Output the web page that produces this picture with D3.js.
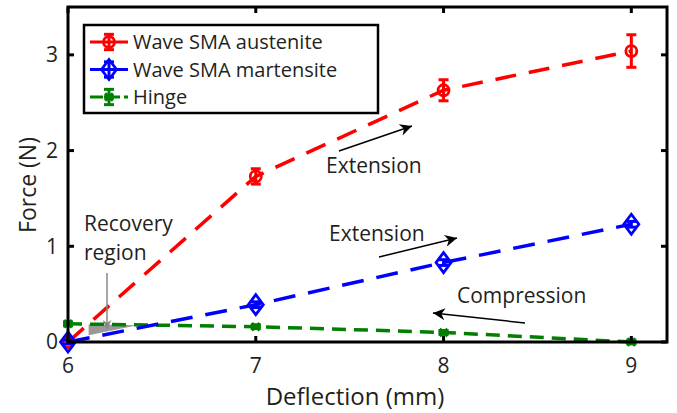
<!DOCTYPE html>
<html><head><meta charset="utf-8">
<script src="https://cdn.jsdelivr.net/npm/d3@7"></script>
<style>body{margin:0;background:#fff}svg{display:block}text{font-family:"Open Sans",sans-serif;fill:#231f20}</style>
</head><body>
<svg id="c" width="677" height="413"></svg>
<script>
const deflection = [6, 7, 8, 9];
const austenite = [0.0, 1.73, 2.63, 3.04];
const austeniteErr = [0.02, 0.08, 0.11, 0.17];
const martensite = [0.0, 0.39, 0.83, 1.23];
const martensiteErr = [0.02, 0.03, 0.03, 0.03];
const hinge = [0.19, 0.16, 0.10, 0.0];
const hingeErr = [0.02, 0.02, 0.02, 0.02];
const xTicks = [6, 7, 8, 9];
const yTicks = [0, 1, 2, 3];
const seriesNames = ["Wave SMA austenite", "Wave SMA martensite", "Hinge"];
const seriesColors = ["#ff0000", "#0000ff", "#007f00"];

const svg = d3.select("#c");
const L = 68, R = 667, T = 7, B = 342;
const x = d3.scaleLinear().domain([6, 9.19]).range([L, R]);
const y = d3.scaleLinear().domain([0, 3.5]).range([B, T]);

const series = [
  {name: seriesNames[0], color: seriesColors[0], v: austenite, e: austeniteErr, marker: "circle", dash: "21,13", w: 3.5},
  {name: seriesNames[1], color: seriesColors[1], v: martensite, e: martensiteErr, marker: "diamond", dash: "22,13", w: 3.5},
  {name: seriesNames[2], color: seriesColors[2], v: hinge, e: hingeErr, marker: "star", dash: "14,8", w: 3.5}
];

const line = d3.line().x((d,i)=>x(deflection[i])).y(d=>y(d));
const plot = svg.append("g");

function drawMarker(g, type, cx, cy, color) {
  if (type === "circle") {
    g.append("circle").attr("cx", cx).attr("cy", cy).attr("r", 5.5).attr("fill","none").attr("stroke", color).attr("stroke-width", 2.8);
  } else if (type === "diamond") {
    g.append("path").attr("d", `M${cx},${cy-10}L${cx+7.5},${cy}L${cx},${cy+10}L${cx-7.5},${cy}Z`).attr("fill","none").attr("stroke", color).attr("stroke-width", 2.8);
  } else {
    g.append("path").attr("d", `M${cx-4},${cy-3.5}L${cx+4},${cy+3.5}M${cx-4},${cy+3.5}L${cx+4},${cy-3.5}M${cx-5},${cy}L${cx+5},${cy}`).attr("stroke", color).attr("stroke-width", 3.2);
  }
}
function drawErr(g, cx, v, e, color) {
  const y1 = y(v + e), y2 = y(v - e);
  g.append("line").attr("x1", cx).attr("x2", cx).attr("y1", y1).attr("y2", y2).attr("stroke", color).attr("stroke-width", 3);
  [y1, y2].forEach(yy => g.append("line").attr("x1", cx-5).attr("x2", cx+5).attr("y1", yy).attr("y2", yy).attr("stroke", color).attr("stroke-width", 3));
}

// Recovery region shape (under lines)
plot.append("path").attr("d", `M${x(6.11)},${y(0.185)}L${x(6.37)},${y(0.175)}L${x(6.11)},${y(0.07)}Z`).attr("fill", "#999999");

[2, 0, 1].forEach(k => {
  const s = series[k];
  plot.append("path").datum(s.v).attr("d", line).attr("fill","none").attr("stroke", s.color)
    .attr("stroke-width", s.w).attr("stroke-dasharray", s.dash);
});
[2, 0, 1].forEach(k => {
  const s = series[k];
  const g = plot.append("g");
  s.v.forEach((v, i) => {
    const cx = x(deflection[i]);
    drawErr(g, cx, v, s.e[i], s.color);
    drawMarker(g, s.marker, cx, y(v), s.color);
  });
});

const defs = svg.append("defs");
function mk(id, color, w, h) {
  defs.append("marker").attr("id", id).attr("viewBox", "0 0 10 10").attr("refX", 10).attr("refY", 5)
    .attr("markerWidth", w).attr("markerHeight", h).attr("orient", "auto").attr("markerUnits","userSpaceOnUse")
    .append("path").attr("d", "M0,0L10,5L0,10L3,5Z").attr("fill", color);
}
mk("ah", "#000", 20, 12);
mk("ahg", "#888", 14, 9);
svg.append("line").attr("x1", 107).attr("y1", 273).attr("x2", 107).attr("y2", 329).attr("stroke", "#888").attr("stroke-width", 1.5).attr("marker-end", "url(#ahg)");

const arrows = [[339,151,412,126],[379,257,457,238],[525,323,433,313]];
arrows.forEach(a => svg.append("line").attr("x1",a[0]).attr("y1",a[1]).attr("x2",a[2]).attr("y2",a[3]).attr("stroke","#000").attr("stroke-width",1.5).attr("marker-end","url(#ah)"));

const ann = svg.append("g").style("font-size","21px");
ann.append("text").attr("x", 326).attr("y", 173).text("Extension");
ann.append("text").attr("x", 329).attr("y", 241).text("Extension");
ann.append("text").attr("x", 457).attr("y", 303).text("Compression");
ann.append("text").attr("x", 84).attr("y", 231).text("Recovery");
ann.append("text").attr("x", 84).attr("y", 260).text("region");

// Axes box
const ax = svg.append("g");
ax.append("rect").attr("x", L).attr("y", T).attr("width", R-L).attr("height", B-T).attr("fill","none").attr("stroke","#000").attr("stroke-width", 3);
xTicks.forEach(t => {
  ax.append("line").attr("x1", x(t)).attr("x2", x(t)).attr("y1", B).attr("y2", B-6).attr("stroke","#000").attr("stroke-width",3);
  ax.append("line").attr("x1", x(t)).attr("x2", x(t)).attr("y1", T).attr("y2", T+6).attr("stroke","#000").attr("stroke-width",3);
  ax.append("text").attr("x", x(t)).attr("y", 373).attr("text-anchor","middle").style("font-size","21px").text(t);
});
yTicks.forEach(t => {
  ax.append("line").attr("y1", y(t)).attr("y2", y(t)).attr("x1", L).attr("x2", L+6).attr("stroke","#000").attr("stroke-width",3);
  ax.append("line").attr("y1", y(t)).attr("y2", y(t)).attr("x1", R).attr("x2", R-6).attr("stroke","#000").attr("stroke-width",3);
  ax.append("text").attr("x", 58).attr("y", y(t)).attr("dy", "0.35em").attr("text-anchor","end").style("font-size","21px").text(t);
});
ax.append("text").attr("x", 355).attr("y", 405).attr("text-anchor","middle").style("font-size","24px").text("Deflection (mm)");
ax.append("text").attr("transform", "translate(36,185) rotate(-90)").attr("text-anchor","middle").style("font-size","23px").text("Force (N)");

// Legend
const lg = svg.append("g");
lg.append("rect").attr("x", 84).attr("y", 25).attr("width", 294).attr("height", 88).attr("fill","#fff").attr("stroke","#000").attr("stroke-width",2.5);
series.forEach((s, i) => {
  const yy = 42 + i * 27.5;
  lg.append("line").attr("x1", 90).attr("x2", 128).attr("y1", yy).attr("y2", yy).attr("stroke", s.color).attr("stroke-width", 3).attr("stroke-dasharray", i===2 ? "13,4" : "13,0");
  drawErr(lg, 109, y.invert(yy), 0.08, s.color);
  drawMarker(lg, s.marker, 109, yy, s.color);
  lg.append("text").attr("x", 133).attr("y", yy).attr("dy","0.35em").style("font-size","20px").text(s.name);
});
</script>
</body></html>
